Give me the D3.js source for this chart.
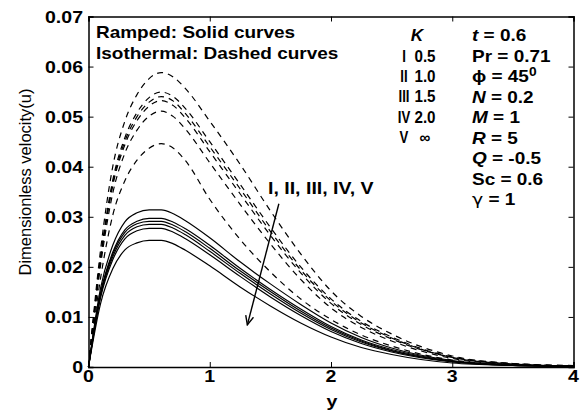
<!DOCTYPE html>
<html>
<head>
<meta charset="utf-8">
<script src="https://cdn.jsdelivr.net/npm/d3@7"></script>
<style>
    body { margin: 0; background: #fff; }
    text { font-family: "Liberation Sans", Arial, sans-serif; }
</style>
</head>
<body>
<script>
//distance along the plate
var yPoints = [0, 0.1, 0.2, 0.3, 0.4, 0.5, 0.6, 0.7, 0.8, 1.0, 1.25, 1.5, 1.75, 2.0, 2.25, 2.5, 3.0, 3.5, 4.0];

//ramped wall temperature (solid curves)
var rampedU = [
    [0, 0.0158, 0.0243, 0.0290, 0.0308, 0.0314, 0.0314, 0.0306, 0.0292, 0.0258, 0.0210, 0.0166, 0.0125, 0.0088, 0.0059, 0.0038, 0.0013, 0.0004, 0.0002],
    [0, 0.0149, 0.0229, 0.0274, 0.0291, 0.0297, 0.0297, 0.0289, 0.0276, 0.0243, 0.0197, 0.0155, 0.0116, 0.0081, 0.0054, 0.0035, 0.0012, 0.0004, 0.0002],
    [0, 0.0146, 0.0225, 0.0269, 0.0286, 0.0291, 0.0291, 0.0283, 0.0270, 0.0237, 0.0192, 0.0151, 0.0112, 0.0078, 0.0052, 0.0033, 0.0011, 0.0004, 0.0001],
    [0, 0.0143, 0.0220, 0.0263, 0.0280, 0.0285, 0.0285, 0.0277, 0.0264, 0.0231, 0.0187, 0.0146, 0.0108, 0.0075, 0.0050, 0.0032, 0.0011, 0.0003, 0.0001],
    [0, 0.0139, 0.0214, 0.0256, 0.0272, 0.0277, 0.0277, 0.0269, 0.0256, 0.0224, 0.0181, 0.0140, 0.0103, 0.0071, 0.0047, 0.0030, 0.0010, 0.0003, 0.0001],
    [0, 0.0127, 0.0196, 0.0234, 0.0248, 0.0253, 0.0253, 0.0246, 0.0233, 0.0202, 0.0160, 0.0122, 0.0088, 0.0060, 0.0039, 0.0025, 0.0008, 0.0003, 0.0001]
];

//isothermal wall (dashed curves)
var isoU = [
    [0, 0.0235, 0.0400, 0.0491, 0.0544, 0.0576, 0.0588, 0.0579, 0.0556, 0.0491, 0.0405, 0.0312, 0.0226, 0.0152, 0.0101, 0.0066, 0.0022, 0.0007, 0.0003],
    [0, 0.0220, 0.0373, 0.0458, 0.0508, 0.0538, 0.0549, 0.0540, 0.0516, 0.0450, 0.0365, 0.0279, 0.0200, 0.0136, 0.0091, 0.0060, 0.0020, 0.0007, 0.0002],
    [0, 0.0216, 0.0367, 0.0451, 0.0500, 0.0529, 0.0540, 0.0531, 0.0506, 0.0440, 0.0356, 0.0271, 0.0194, 0.0132, 0.0088, 0.0058, 0.0019, 0.0006, 0.0002],
    [0, 0.0213, 0.0362, 0.0444, 0.0492, 0.0521, 0.0532, 0.0522, 0.0497, 0.0430, 0.0346, 0.0263, 0.0188, 0.0127, 0.0085, 0.0056, 0.0019, 0.0006, 0.0002],
    [0, 0.0204, 0.0347, 0.0427, 0.0473, 0.0501, 0.0511, 0.0500, 0.0475, 0.0408, 0.0325, 0.0246, 0.0175, 0.0118, 0.0079, 0.0052, 0.0017, 0.0005, 0.0002],
    [0, 0.0178, 0.0303, 0.0372, 0.0413, 0.0437, 0.0446, 0.0437, 0.0412, 0.0335, 0.0255, 0.0190, 0.0136, 0.0095, 0.0064, 0.0042, 0.0014, 0.0005, 0.0002]
];

//ticks and legend text
var xTicks = [0, 1, 2, 3, 4];
var yTicks = [0, 0.01, 0.02, 0.03, 0.04, 0.05, 0.06, 0.07];
var caseNames = ["I", "II", "III", "IV", "V"];
var kValues = ["0.5", "1.0", "1.5", "2.0", "\u221e"];
var params = [
    [["t", true], [" = 0.6", false]],
    [["Pr = 0.71", false]],
    [["\u03d5 = 45", false], ["0", false, "sup"]],
    [["N", true], [" = 0.2", false]],
    [["M", true], ["  = 1", false]],
    [["R", true], ["  = 5", false]],
    [["Q", true], [" = -0.5", false]],
    [["Sc = 0.6", false]],
    [["\u03b3", false, "greek"], [" = 1", false]]
];

window.onload = function(){
    var w = 582, h = 416;
    var margin = {top: 16.5, right: 8.5, bottom: 49, left: 88.5};
    var sx = 1.15; //the source figure was stretched sideways a little

    var svg = d3.select("body")
        .append("svg")
        .attr("width", w)
        .attr("height", h);

    var x = d3.scaleLinear()
        .domain([0, 4])
        .range([margin.left, w - margin.right]);

    var y = d3.scaleLinear()
        .domain([0, 0.07])
        .range([h - margin.bottom, margin.top]);

    //stretched text helper
    function label(txt, px, py, anchor, size, weight, stretch){
        var s = stretch || sx;
        return svg.append("text")
            .attr("transform", "translate(" + px + "," + py + ") scale(" + s + ",1)")
            .attr("text-anchor", anchor)
            .style("font-size", size + "px")
            .style("font-weight", weight)
            .text(txt);
    }

    //curves
    var line = d3.line()
        .x(function(d, i){ return x(yPoints[i]); })
        .y(function(d){ return y(d); })
        .curve(d3.curveMonotoneX);

    svg.selectAll(".ramped")
        .data(rampedU)
        .enter()
        .append("path")
        .attr("class", "ramped")
        .attr("d", line)
        .attr("fill", "none")
        .attr("stroke", "#000")
        .attr("stroke-width", 1.2);

    svg.selectAll(".iso")
        .data(isoU)
        .enter()
        .append("path")
        .attr("class", "iso")
        .attr("d", line)
        .attr("fill", "none")
        .attr("stroke", "#000")
        .attr("stroke-width", 1.2)
        .attr("stroke-dasharray", "6,5");

    //axes box with inward ticks on all sides
    var tl = 5;
    svg.append("g")
        .attr("transform", "translate(0," + y(0) + ")")
        .call(d3.axisBottom(x).tickValues(xTicks).tickSize(-tl).tickFormat(""));
    svg.append("g")
        .attr("transform", "translate(0," + y(0.07) + ")")
        .call(d3.axisTop(x).tickValues(xTicks).tickSize(-tl).tickFormat(""));
    svg.append("g")
        .attr("transform", "translate(" + x(0) + ",0)")
        .call(d3.axisLeft(y).tickValues(yTicks).tickSize(-tl).tickFormat(""));
    svg.append("g")
        .attr("transform", "translate(" + x(4) + ",0)")
        .call(d3.axisRight(y).tickValues(yTicks).tickSize(-tl).tickFormat(""));
    svg.selectAll(".domain").attr("stroke", "#000").attr("stroke-width", 1.5);
    svg.selectAll(".tick line").attr("stroke", "#000").attr("stroke-width", 1);

    //tick labels
    xTicks.forEach(function(t){
        label(String(t), x(t), y(0) + 15, "middle", 17, "bold");
    });
    yTicks.forEach(function(t){
        label(t === 0 ? "0" : t.toFixed(2), x(0) - 5.5, y(t) + 6, "end", 17, "bold");
    });

    //axis titles
    label("y", x(2) + 1, 407, "middle", 17, "bold");
    svg.append("text")
        .attr("transform", "translate(31," + 182 + ") rotate(-90)")
        .attr("text-anchor", "middle")
        .style("font-size", "16.5px")
        .text("Dimensionless velocity(u)");

    //legend text
    label("Ramped: Solid curves", 96, 38, "start", 16.5, "bold");
    label("Isothermal: Dashed curves", 96, 59, "start", 16.5, "bold");
    label("K", 417, 41, "middle", 16.5, "bold", 1.05).style("font-style", "italic");
    caseNames.forEach(function(c, i){
        label(c, 404, 62 + i * 20.2, "middle", 16.5, "bold", 0.8);
        label(kValues[i], 425, 62 + i * 20.2, "middle", 16.5, "bold", 0.92);
    });

    params.forEach(function(p, i){
        var t = label("", 472, 41 + i * 20.5, "start", 16.5, "bold");
        p.forEach(function(part){
            var ts = t.append("tspan").text(part[0]);
            if (part[1]) ts.style("font-style", "italic");
            if (part[2] === "sup") ts.attr("dy", -6).style("font-size", "12px");
            if (part[2] === "greek") ts.style("font-family", "DejaVu Sans").style("font-weight", "normal");
        });
    });

    //arrow for increasing K
    label("I, II, III, IV, V", 268, 194, "start", 17, "bold");
    svg.append("defs").append("marker")
        .attr("id", "head")
        .attr("viewBox", "0 0 10 10")
        .attr("refX", 9).attr("refY", 5)
        .attr("markerWidth", 10).attr("markerHeight", 10)
        .attr("markerUnits", "userSpaceOnUse")
        .attr("orient", "auto")
        .append("path")
        .attr("d", "M0,1 L9,5 L0,9")
        .attr("fill", "none")
        .attr("stroke", "#000")
        .attr("stroke-width", 1.4);
    svg.append("line")
        .attr("x1", x(1.57)).attr("y1", y(0.0326))
        .attr("x2", x(1.31)).attr("y2", y(0.0084))
        .attr("stroke", "#000")
        .attr("stroke-width", 1.4)
        .attr("marker-end", "url(#head)");
};
</script>
</body>
</html>
